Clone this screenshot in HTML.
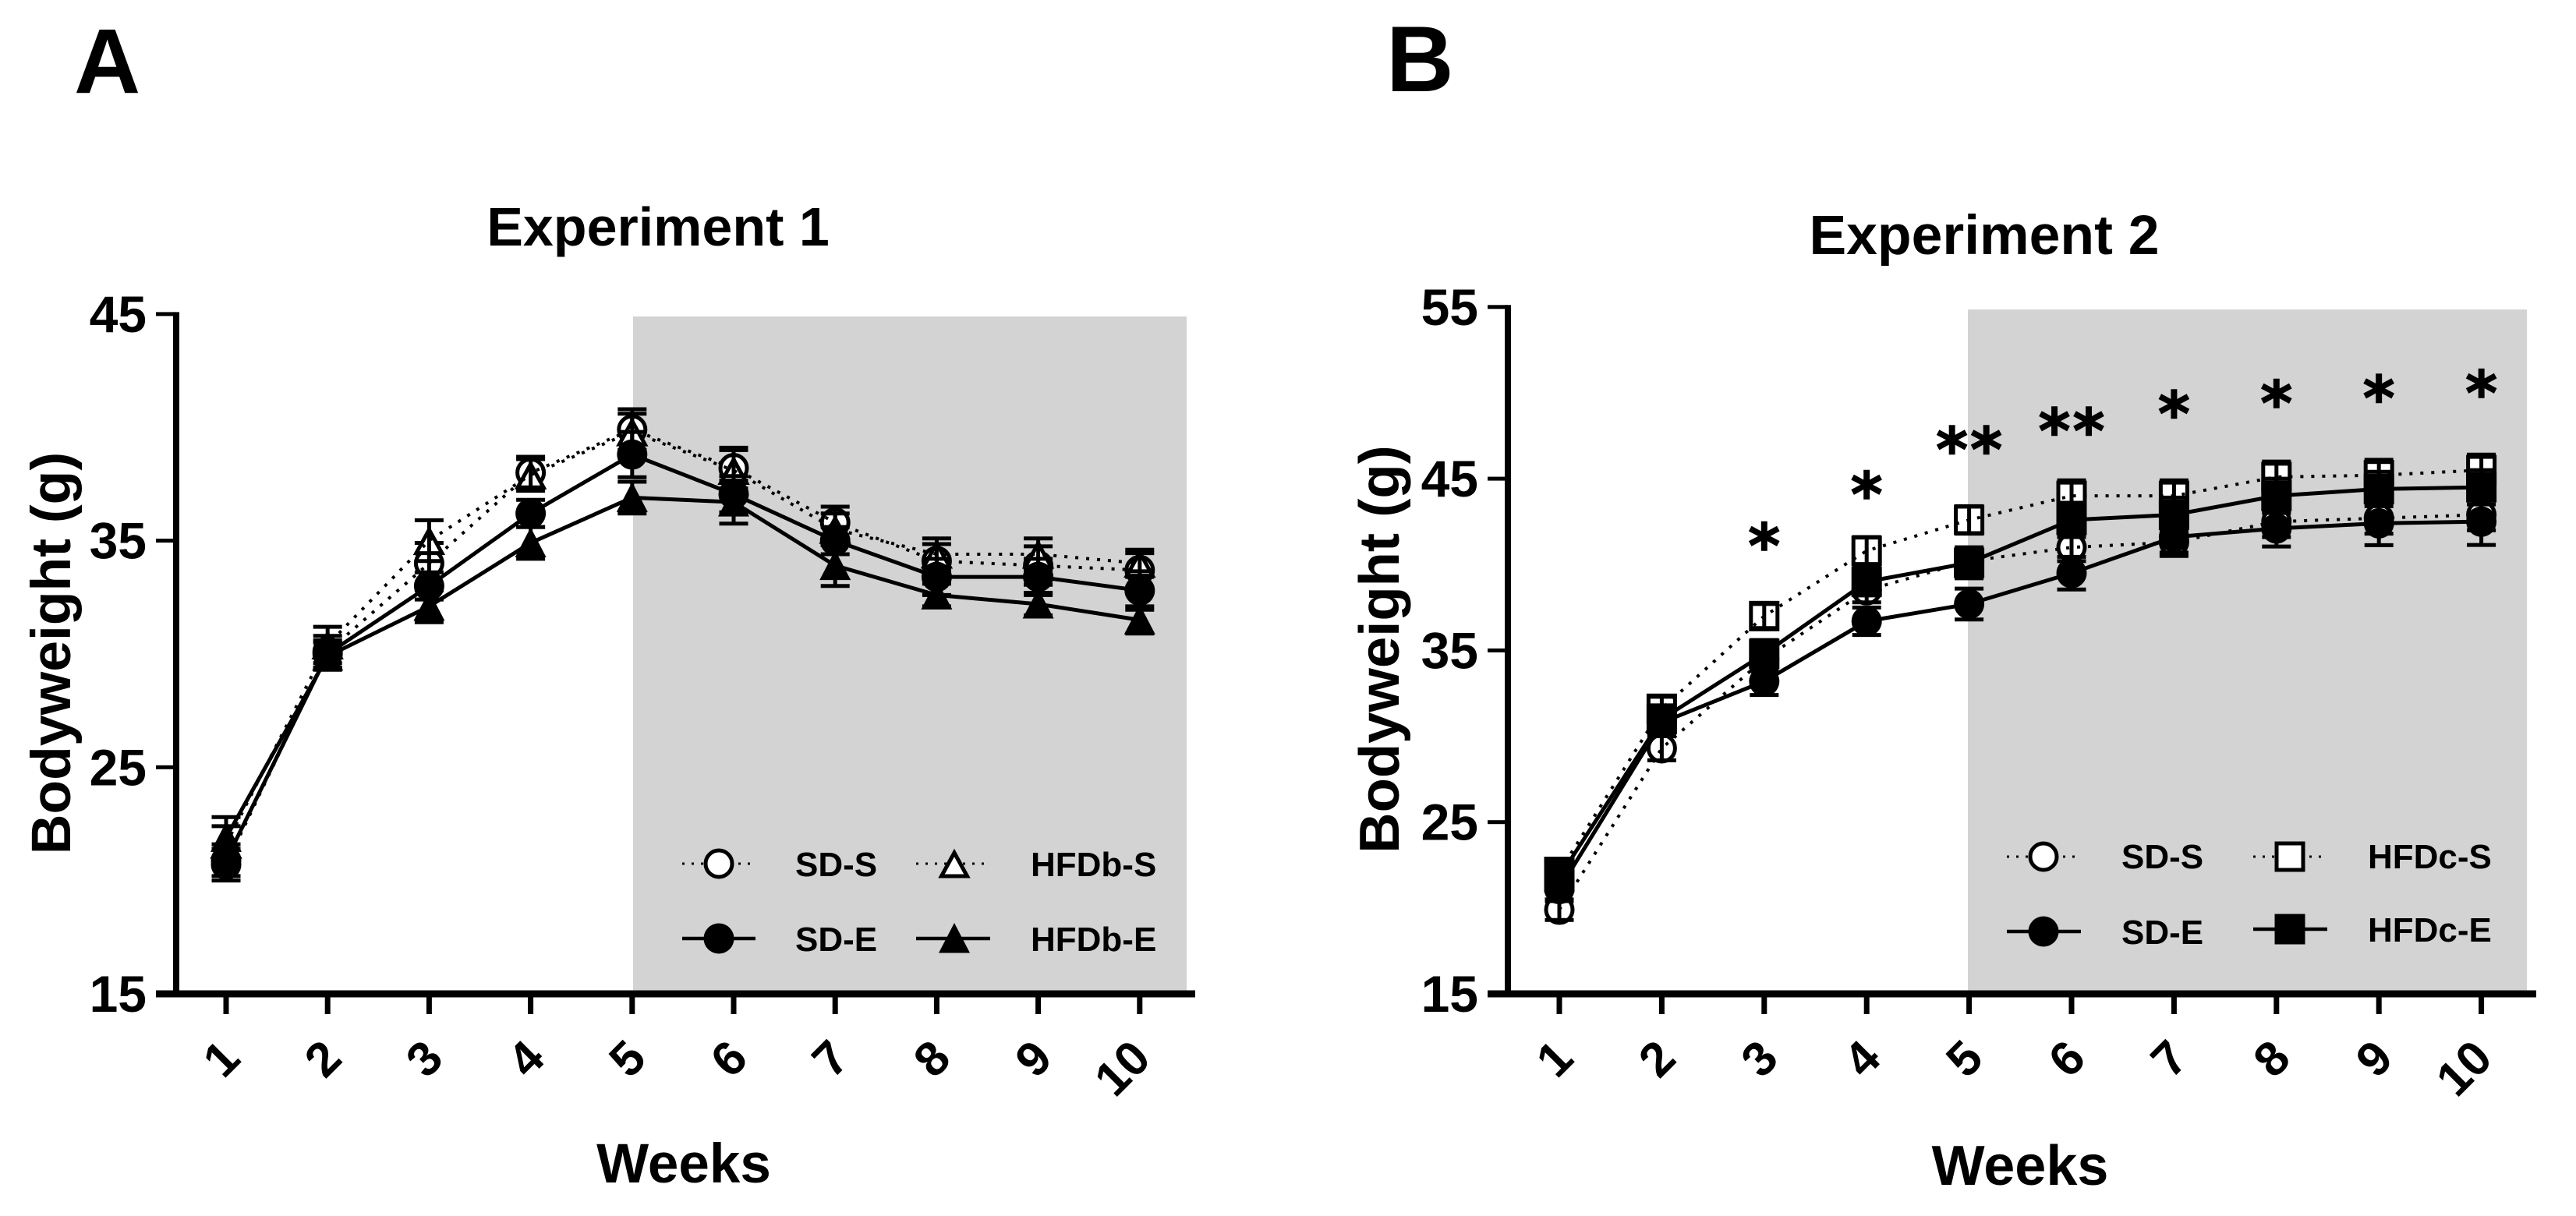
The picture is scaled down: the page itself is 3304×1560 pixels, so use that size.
<!DOCTYPE html>
<html lang="en">
<head>
<meta charset="utf-8">
<title>Bodyweight over weeks: Experiment 1 and 2</title>
<style>
html,body{margin:0;padding:0;background:#fff;}
svg{display:block;}
text{font-family:"Liberation Sans",Arial,sans-serif;font-weight:700;fill:#000;}
.star{font-family:"DejaVu Sans",sans-serif;stroke:#000;stroke-width:1.5;}
</style>
</head>
<body>
<svg id="chart" xmlns="http://www.w3.org/2000/svg" width="3304" height="1560" viewBox="0 0 3304 1560">
  <rect x="0" y="0" width="3304" height="1560" fill="#fff"/>
  <rect x="812" y="406" width="710" height="869" fill="#d3d3d3"/>
  <rect x="2524" y="397" width="717" height="878" fill="#d3d3d3"/>
  <text x="95" y="119" font-size="118">A</text>
  <text x="1778" y="117" font-size="120">B</text>
  <text x="844" y="315" font-size="70" text-anchor="middle">Experiment 1</text>
  <text x="2545" y="326" font-size="71.5" text-anchor="middle">Experiment 2</text>
  <text transform="translate(90 838) rotate(-90)" font-size="71.5" text-anchor="middle">Bodyweight (g)</text>
  <text transform="translate(1794 833) rotate(-90)" font-size="72.5" text-anchor="middle">Bodyweight (g)</text>
  <text x="877" y="1517" font-size="71" text-anchor="middle">Weeks</text>
  <text x="2591" y="1520" font-size="72" text-anchor="middle">Weeks</text>
  <g id="plot-a"></g>
  <g id="plot-b"></g>
  <g id="legend"></g>
</svg>
<script>
// Shared categories and tick labels
const weeks = [1, 2, 3, 4, 5, 6, 7, 8, 9, 10];
const yTicksA = [15, 25, 35, 45];
const yTicksB = [15, 25, 35, 45, 55];

// Experiment 1 means (g)
const aSdS   = [20.7, 30.1, 34.0, 38.0, 39.9, 38.2, 35.8, 34.1, 33.9, 33.7];
const aHfdbS = [21.6, 30.4, 35.0, 37.9, 39.8, 38.1, 35.5, 34.4, 34.4, 34.0];
const aSdE   = [20.9, 30.0, 33.0, 36.2, 38.8, 37.05, 35.0, 33.4, 33.4, 32.8];
const aHfdbE = [21.9, 29.9, 32.1, 34.9, 36.9, 36.7, 33.9, 32.6, 32.2, 31.5];
// Experiment 1 error bars
const aSdSErr   = [0.7, 0.7, 0.9, 0.7, 0.9, 0.9, 0.7, 0.75, 0.85, 0.75];
const aHfdbSErr = [0.8, 0.8, 0.9, 0.7, 0.8, 0.9, 0.7, 0.7, 0.7, 0.6];
const aSdEErr   = [0.7, 0.6, 0.6, 0.6, 1.0, 0.8, 0.6, 0.8, 0.8, 0.85];
const aHfdbEErr = [0.9, 0.6, 0.7, 0.7, 0.7, 0.95, 0.9, 0.5, 0.5, 0.6];

// Experiment 2 means (g)
const bSdS   = [19.9, 29.3, 34.5, 38.5, 40.2, 41.0, 41.3, 42.5, 42.7, 42.9];
const bHfdcS = [22.1, 31.6, 37.0, 40.8, 42.6, 44.0, 44.0, 45.1, 45.2, 45.5];
const bSdE   = [21.1, 30.8, 33.2, 36.7, 37.7, 39.5, 41.6, 42.1, 42.4, 42.5];
const bHfdcE = [21.8, 31.0, 34.8, 39.0, 40.1, 42.6, 42.9, 44.0, 44.4, 44.5];
// Experiment 2 error bars
const bSdSErr   = [0.6, 0.7, 0.7, 0.7, 0.8, 0.8, 0.8, 0.9, 0.9, 0.9];
const bHfdcSErr = [0.7, 0.7, 0.7, 0.8, 0.8, 0.9, 0.9, 0.9, 0.9, 0.9];
const bSdEErr   = [0.7, 0.7, 0.8, 0.8, 0.9, 0.95, 0.9, 1.05, 1.27, 1.36];
const bHfdcEErr = [0.8, 0.8, 0.8, 0.8, 0.9, 1.0, 1.0, 1.0, 1.0, 1.0];

// Significance markers in panel B
const starWeeks  = [3, 4, 5, 6, 7, 8, 9, 10];
const starCounts = [1, 1, 2, 2, 1, 1, 1, 1];
const starLevels = [41.6, 44.6, 47.2, 48.3, 49.3, 49.9, 50.2, 50.5];

const SVGNS = 'http://www.w3.org/2000/svg';
function mk(tag, parent, attrs) {
  const el = document.createElementNS(SVGNS, tag);
  for (const k in attrs) el.setAttribute(k, attrs[k]);
  parent.appendChild(el);
  return el;
}

const panelA = {
  root: document.getElementById('plot-a'),
  x: w => 290 + (w - 1) * 130.2,
  y: v => 1275 - (v - 15) * 29.07,
  axisX: 226, axisLeft: 200, axisRight: 1533, labelRight: 188, yTop: 45,
  ticks: yTicksA, key: 'a'
};
const panelB = {
  root: document.getElementById('plot-b'),
  x: w => 2000 + (w - 1) * 131.4,
  y: v => 1275 - (v - 15) * 22.03,
  axisX: 1934, axisLeft: 1908, axisRight: 3253, labelRight: 1896, yTop: 55,
  ticks: yTicksB, key: 'b'
};

function drawMarker(parent, shape, cx, cy, name) {
  let el;
  if (shape === 'circle-open') {
    el = mk('circle', parent, {cx: cx, cy: cy, r: 17, fill: '#fff', stroke: '#000', 'stroke-width': 5});
  } else if (shape === 'circle-filled') {
    el = mk('circle', parent, {cx: cx, cy: cy, r: 19.5, fill: '#000'});
  } else if (shape === 'triangle-open') {
    el = mk('polygon', parent, {points: (cx) + ',' + (cy - 14) + ' ' + (cx + 16.5) + ',' + (cy + 16) + ' ' + (cx - 16.5) + ',' + (cy + 16), fill: '#fff', stroke: '#000', 'stroke-width': 5});
  } else if (shape === 'triangle-filled') {
    el = mk('polygon', parent, {points: (cx) + ',' + (cy - 20) + ' ' + (cx + 20) + ',' + (cy + 18.5) + ' ' + (cx - 20) + ',' + (cy + 18.5), fill: '#000'});
  } else if (shape === 'square-open') {
    el = mk('rect', parent, {x: cx - 17, y: cy - 17, width: 34, height: 34, fill: '#fff', stroke: '#000', 'stroke-width': 5});
  } else {
    el = mk('rect', parent, {x: cx - 19.5, y: cy - 19.5, width: 39, height: 39, fill: '#000'});
  }
  
  
}

function drawSeries(panel, name, values, errors, shape, dotted) {
  const g = mk('g', panel.root, {});
  
  
  weeks.forEach((w, i) => drawMarker(g, shape, panel.x(w), panel.y(values[i]), 'marker-' + name + '-week-' + w));
  const pts = weeks.map((w, i) => panel.x(w) + ',' + panel.y(values[i])).join(' ');
  const line = mk('polyline', g, {points: pts, fill: 'none', stroke: '#000', 'stroke-width': dotted ? 4 : 5});
  
  
  if (dotted) line.setAttribute('stroke-dasharray', '4 10');
  weeks.forEach((w, i) => {
    const x = panel.x(w);
    const top = panel.y(values[i] + errors[i]);
    const bot = panel.y(values[i] - errors[i]);
    const bar = mk('path', g, {d: 'M' + x + ' ' + top + 'V' + bot + 'M' + (x - 18.5) + ' ' + top + 'H' + (x + 18.5) + 'M' + (x - 18.5) + ' ' + bot + 'H' + (x + 18.5), fill: 'none', stroke: '#000', 'stroke-width': 5});
    
    
  });
}

function drawAxes(panel) {
  const root = panel.root;
  const yAxis = mk('rect', root, {x: panel.axisX - 4, y: panel.y(panel.yTop) - 2.5, width: 8, height: panel.y(15) - panel.y(panel.yTop) + 2.5, fill: '#000'});
  
  
  const xAxis = mk('rect', root, {x: panel.axisLeft, y: 1270.5, width: panel.axisRight - panel.axisLeft, height: 9, fill: '#000'});
  
  
  panel.ticks.forEach(v => {
    const y = panel.y(v);
    const tick = mk('rect', root, {x: panel.axisLeft, y: y - 2.5, width: panel.axisX - panel.axisLeft, height: 5, fill: '#000'});
    
    
    const label = mk('text', root, {x: panel.labelRight, y: y + 23, 'font-size': 66, 'text-anchor': 'end'});
    
    
    label.textContent = v;
  });
  weeks.forEach(w => {
    const x = panel.x(w);
    const tick = mk('rect', root, {x: x - 3.5, y: 1275, width: 7, height: 26, fill: '#000'});
    
    
    const shift = String(w).length > 1 ? 17 : 21;
    const label = mk('text', root, {transform: 'translate(' + (x + shift) + ' 1361) rotate(-45)', 'font-size': 62, 'text-anchor': 'end'});
    
    
    label.textContent = w;
  });
}

drawSeries(panelA, 'sd-s', aSdS, aSdSErr, 'circle-open', true);
drawSeries(panelA, 'hfdb-s', aHfdbS, aHfdbSErr, 'triangle-open', true);
drawSeries(panelA, 'sd-e', aSdE, aSdEErr, 'circle-filled', false);
drawSeries(panelA, 'hfdb-e', aHfdbE, aHfdbEErr, 'triangle-filled', false);
drawAxes(panelA);

drawSeries(panelB, 'sd-s', bSdS, bSdSErr, 'circle-open', true);
drawSeries(panelB, 'hfdc-s', bHfdcS, bHfdcSErr, 'square-open', true);
drawSeries(panelB, 'sd-e', bSdE, bSdEErr, 'circle-filled', false);
drawSeries(panelB, 'hfdc-e', bHfdcE, bHfdcEErr, 'square-filled', false);
drawAxes(panelB);

starWeeks.forEach((w, i) => {
  const n = starCounts[i];
  for (let k = 0; k < n; k++) {
    const cx = panelB.x(w) + (n === 2 ? (k === 0 ? -22 : 22) : 0);
    const star = mk('text', panelB.root, {class: 'star', x: cx, y: panelB.y(starLevels[i]) + 39, 'font-size': 78, 'text-anchor': 'middle'});
    
    
    star.textContent = '*';
  }
});

function legendEntry(label, shape, dotted, lx1, lx2, sx, ly, tx, ty) {
  const root = document.getElementById('legend');
  const g = mk('g', root, {});
  
  
  const line = mk('line', g, {x1: lx1, x2: lx2, y1: ly, y2: ly, stroke: '#000', 'stroke-width': dotted ? 3 : 4.5});
  
  
  if (dotted) line.setAttribute('stroke-dasharray', '3 9');
  drawMarker(g, shape, sx, ly, 'legend-symbol-' + label.toLowerCase());
  const t = mk('text', g, {x: tx, y: ty, 'font-size': 44});
  
  
  t.textContent = label;
}
legendEntry('SD-S', 'circle-open', true, 875, 969, 922, 1108, 1020, 1124);
legendEntry('SD-E', 'circle-filled', false, 875, 969, 922, 1204, 1020, 1220);
legendEntry('HFDb-S', 'triangle-open', true, 1175, 1270, 1224, 1108, 1322, 1124);
legendEntry('HFDb-E', 'triangle-filled', false, 1175, 1270, 1224, 1204, 1322, 1220);
legendEntry('SD-S', 'circle-open', true, 2574, 2669, 2621, 1099, 2721, 1114);
legendEntry('SD-E', 'circle-filled', false, 2574, 2669, 2621, 1195, 2721, 1211);
legendEntry('HFDc-S', 'square-open', true, 2890, 2985, 2937, 1099, 3037, 1114);
legendEntry('HFDc-E', 'square-filled', false, 2890, 2985, 2937, 1192, 3037, 1208);
</script>
</body>
</html>
